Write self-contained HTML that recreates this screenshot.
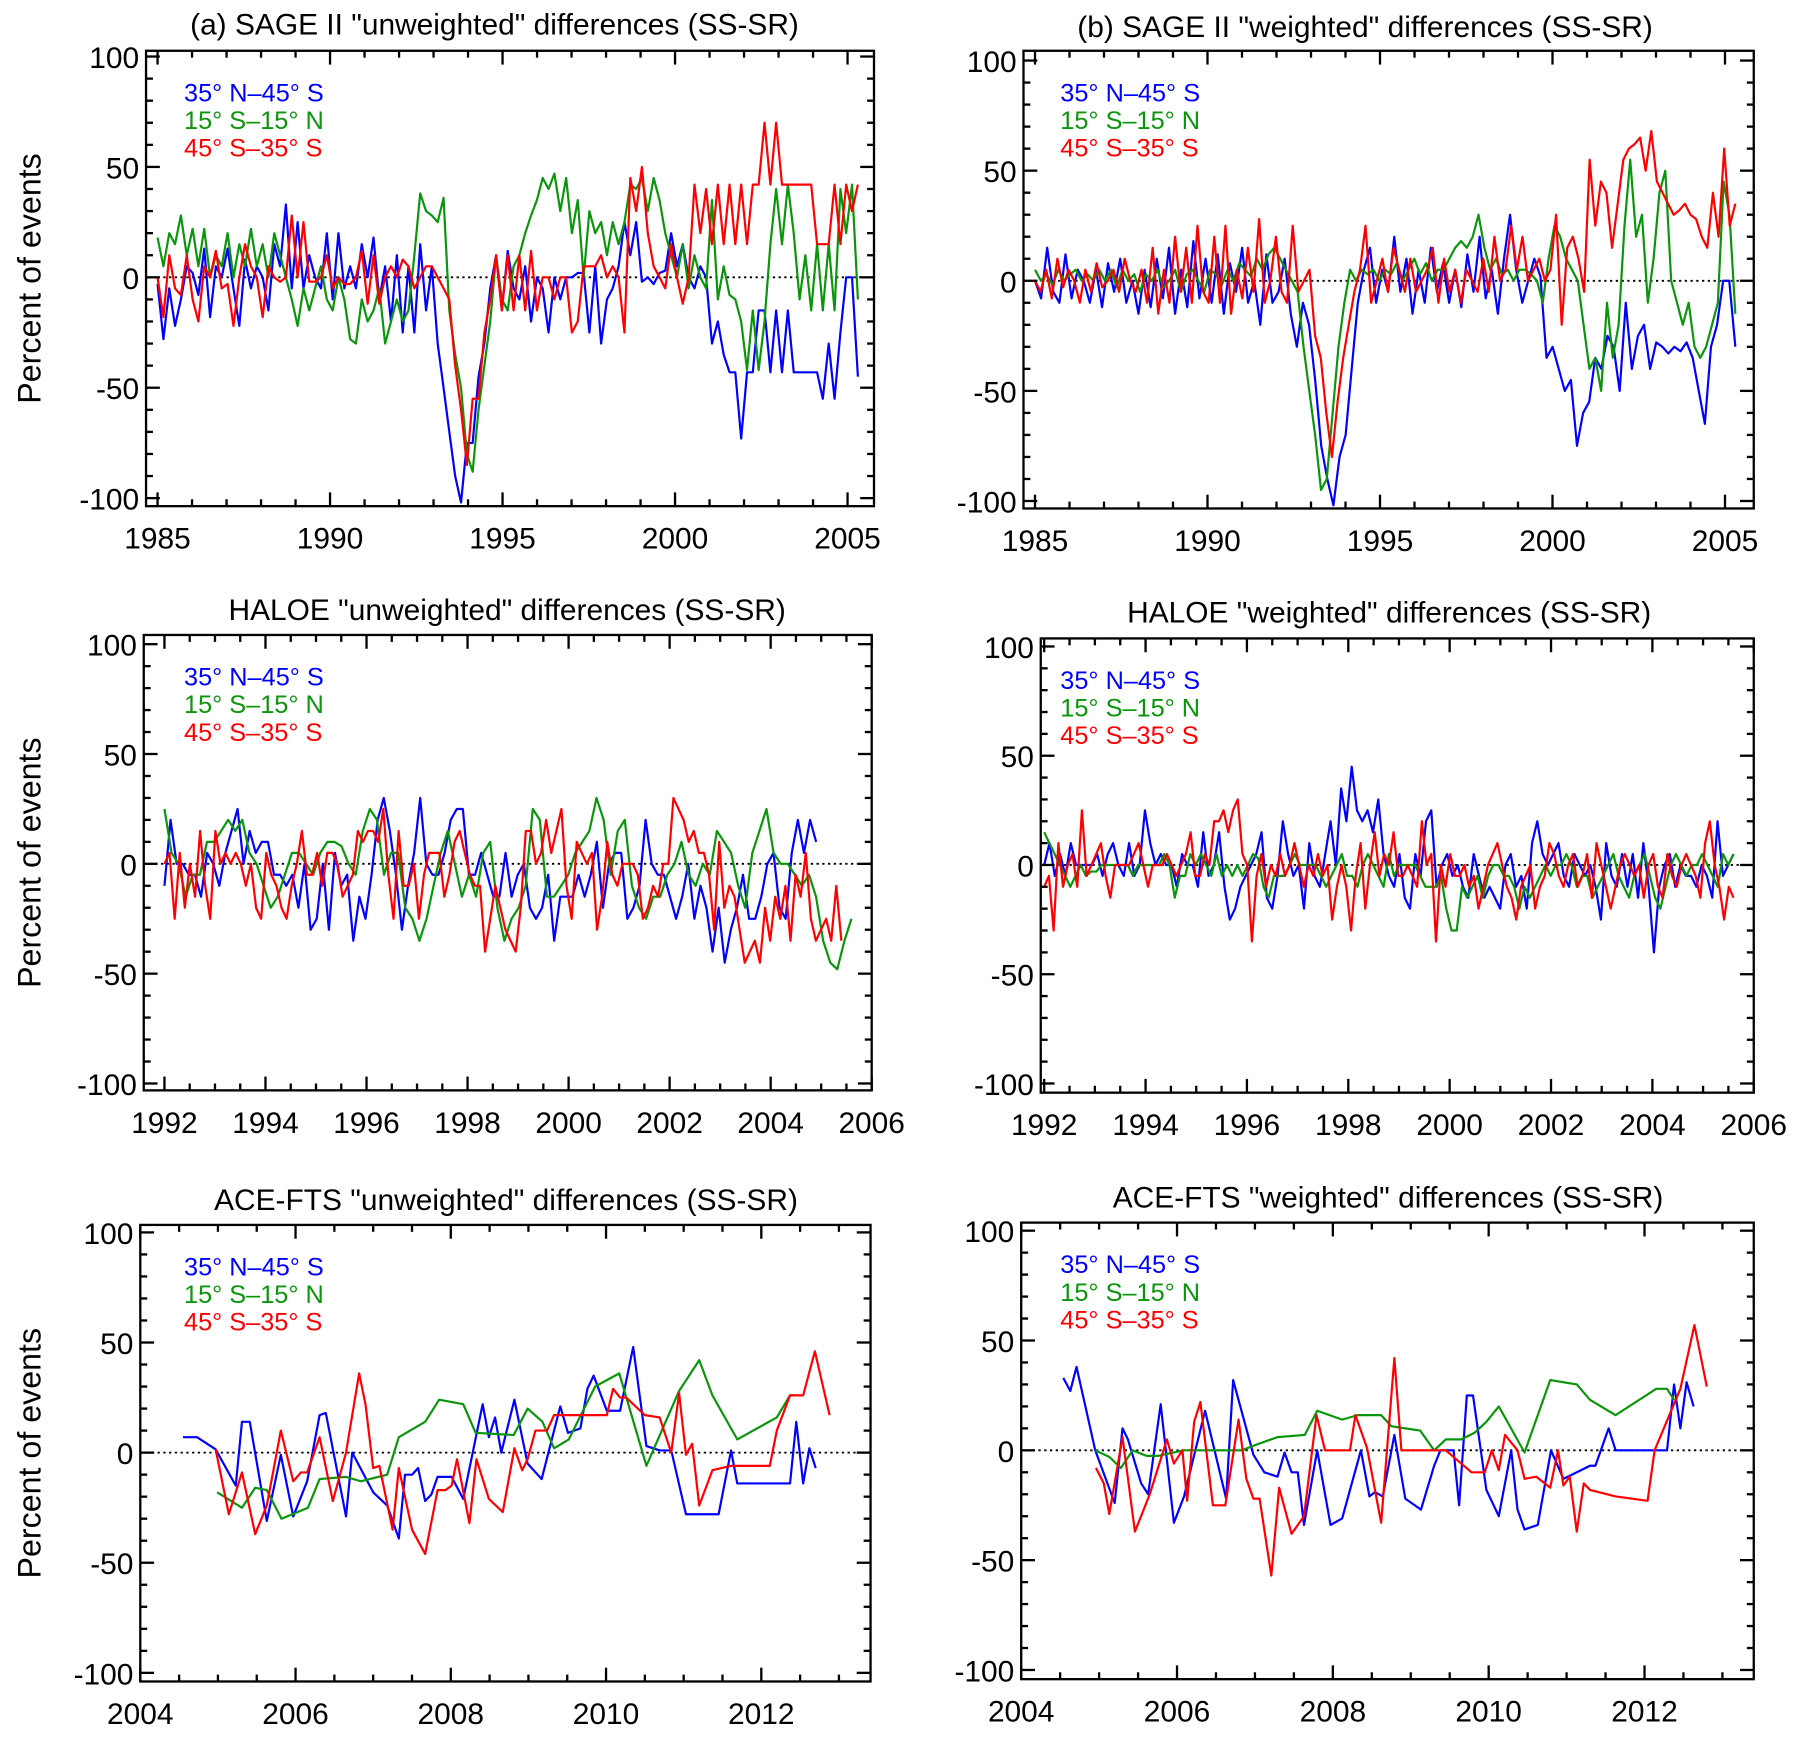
<!DOCTYPE html>
<html><head><meta charset="utf-8">
<style>
html,body{margin:0;padding:0;background:#fff;}
svg{display:block;}
text{font-family:"Liberation Sans",sans-serif;}
</style></head>
<body>
<svg id="fig" width="1794" height="1738" viewBox="0 0 1560 1511" xmlns="http://www.w3.org/2000/svg"></svg>
<script>
// ---------- DATA ----------
// SAGE II unweighted (panel a), evenly spaced 1985.0 - 2005.3
const sageSpan = [1985.0, 2005.3];
const aBlue = [-3,-28,-5,-22,-10,5,2,-8,13,-18,5,0,13,-5,-22,8,-5,5,0,-15,15,5,33,-5,25,-5,10,0,-5,20,-10,20,-5,5,-5,15,0,18,-10,5,-20,10,-25,5,-25,15,-15,5,-30,-50,-70,-90,-102,-75,-75,-45,-30,-5,10,-15,12,-5,-10,5,-20,0,-5,-25,0,-10,0,0,2,2,-25,5,-30,-10,-5,5,25,10,25,-2,0,-3,2,3,20,5,15,0,-5,5,0,-30,-20,-35,-43,-43,-73,-43,-43,-15,-15,-43,-15,-43,-15,-43,-43,-43,-43,-43,-55,-30,-55,-25,0,0,-45];
const aGreen = [18,5,20,15,28,10,22,5,22,0,10,5,20,0,15,5,22,5,15,0,20,10,0,-10,-22,-5,-15,-5,5,-10,-15,0,-10,-28,-30,-10,-20,-15,-5,-30,-20,-10,-20,-15,10,38,30,28,25,36,-15,-35,-50,-80,-88,-60,-40,-20,10,-10,-15,5,10,20,28,35,45,40,47,30,45,20,35,0,30,20,25,10,25,15,25,42,40,45,30,45,35,20,10,0,15,-5,10,0,-5,35,-10,5,-8,-10,-20,-42,-15,-42,-20,15,40,15,42,20,-10,10,-15,15,-15,15,-15,40,20,42,-10];
const aRed = [0,-18,10,-5,-8,10,-10,-20,5,0,12,-5,-3,-22,0,15,5,0,-18,5,0,-2,0,28,0,25,-2,-2,0,10,-5,0,-3,-3,0,12,-12,10,-12,0,5,0,8,5,-5,0,5,5,0,-5,-10,-40,-60,-85,-55,-55,-25,-10,10,-15,10,-15,10,-15,12,-15,0,0,-10,0,0,-25,-20,5,5,5,10,0,5,0,-25,45,30,50,20,5,0,-5,15,0,-12,0,42,20,40,15,42,15,42,15,42,15,42,42,70,42,70,42,42,42,42,42,42,15,15,15,42,15,42,30,42];
// SAGE II weighted (panel b)
const bBlue = [0,-8,15,-5,-10,12,-8,5,0,-10,5,-12,8,-5,10,-10,0,-15,5,-12,10,-8,15,-15,5,-12,18,-8,10,-10,12,-15,8,-5,15,-10,0,-20,12,-10,-5,10,-15,-30,-10,-20,-45,-75,-90,-102,-80,-70,-40,-10,5,15,-10,5,-5,20,-5,10,-15,5,-10,15,-5,8,-10,5,-12,12,-5,20,-8,5,-15,10,30,5,-10,0,10,2,-35,-30,-40,-50,-45,-75,-60,-55,-35,-40,-25,-30,-50,-10,-40,-25,-20,-40,-28,-30,-33,-30,-32,-28,-35,-50,-65,-30,-20,0,0,-30];
const bGreen = [5,0,3,-2,5,0,3,5,0,3,0,5,0,5,-3,5,0,3,-5,3,0,5,-3,0,5,-5,3,5,0,-5,5,3,-2,5,0,8,5,2,10,5,12,15,10,5,0,-5,-30,-50,-70,-95,-90,-60,-30,-10,5,0,5,3,5,0,5,3,8,0,5,10,3,8,0,5,5,10,15,18,15,20,30,15,5,10,3,5,0,5,5,3,0,-10,10,25,20,10,5,0,-20,-40,-35,-50,-10,-35,-20,25,55,20,30,-10,10,40,50,0,-10,-20,-10,-30,-35,-30,-20,-10,45,30,-15];
const bRed = [0,-5,5,-8,10,-3,5,0,-10,5,-5,8,-3,0,5,-5,10,0,-5,5,-10,15,-15,5,-10,20,-5,15,-10,25,-5,-10,20,-10,25,-15,5,-8,15,-5,28,-10,0,20,-5,-10,25,-5,0,5,-25,-35,-60,-80,-55,-35,-20,-5,5,25,-10,0,10,-5,15,5,-5,10,-5,0,5,15,-10,10,-5,5,-10,5,0,-5,10,-5,20,0,5,25,5,20,0,5,10,0,5,30,-20,15,20,10,-5,55,25,45,40,15,35,55,60,62,65,50,68,45,40,35,30,32,35,30,28,20,15,40,20,60,25,35];
// HALOE unweighted (panel c)
const cBlueSpan = [1992.0, 2004.9];
const cBlue = [-10,20,0,0,-5,-5,-15,5,0,-10,5,15,25,0,15,5,10,10,-5,-5,-10,-5,-20,0,-30,-25,0,-30,5,-10,-5,-35,-15,-25,-5,20,30,15,-5,-30,-10,5,30,0,-5,-5,5,20,25,25,-5,-5,5,-5,-15,-15,5,-15,-5,0,-20,-25,-20,-5,-35,-15,-15,-15,-5,-15,-5,10,-20,0,5,5,-25,-20,-10,20,0,-5,-5,-15,-25,-15,0,-25,-10,-20,-40,-20,-45,-30,-20,-5,-25,-25,-15,0,5,-20,-25,5,20,5,20,10];
const cGreenSpan = [1992.0, 2005.6];
const cGreen = [25,5,0,-15,-5,-5,10,10,15,20,15,20,5,0,-10,-20,-15,-5,5,5,0,-5,5,10,10,8,0,-5,15,25,20,-5,5,5,-20,-25,-35,-25,-10,5,15,0,-15,-5,-15,5,10,-20,-35,-25,-20,-10,25,20,-15,-15,-10,-5,5,10,15,30,20,-5,15,20,-10,-20,-25,-15,-15,-5,0,10,-5,-10,0,-5,15,10,5,-10,-20,5,15,25,5,0,0,-5,-10,-5,-15,-35,-45,-48,-35,-25];
const cRedSpan = [1992.0, 2005.4];
const cRed = [0,5,-25,5,-20,0,-15,15,-10,-25,15,0,5,0,5,0,-10,0,-20,-25,5,-5,-10,-20,-25,-10,0,15,-5,-5,5,-10,5,5,0,-15,-10,-5,15,10,15,15,10,25,-5,-25,15,-10,-10,0,-25,-5,5,5,5,-15,-5,10,15,5,-5,-10,-10,-40,-25,-10,-20,-30,-35,-40,-20,15,15,0,5,20,5,15,25,-10,-25,10,5,0,5,-30,-15,10,-5,-10,0,0,0,-5,-25,-20,-10,-15,0,0,30,25,20,10,15,5,5,-5,-30,10,-20,-10,-15,-30,-45,-40,-35,-45,-20,-35,-15,-25,-10,-35,-5,-15,5,-25,-35,-30,-25,-35,-10,-35];
// HALOE weighted (panel d)
const dSpan = [1992.0, 2005.6];
const dBlue = [0,10,-5,5,-5,10,0,0,0,0,5,-5,5,10,0,-5,10,-5,0,25,10,0,5,0,0,-10,5,0,0,-10,15,-5,0,15,-10,-25,-20,-10,-5,0,5,15,-15,-20,-5,20,5,-5,0,-20,10,-5,-10,5,20,0,35,20,45,25,20,25,15,30,5,-5,-10,5,-15,-20,5,-5,20,25,-10,0,5,-5,0,-10,-15,5,-5,-15,-10,-15,-20,0,5,-10,-5,-20,10,20,5,0,5,10,-5,-10,5,0,-5,0,-10,-25,10,-5,-10,5,-10,5,-15,10,-10,-40,-10,0,5,-10,0,-5,-5,-10,0,-5,-15,20,-5,0,5];
const dGreen = [15,10,5,0,-5,-10,-5,0,-5,-3,-3,0,0,0,0,0,0,-5,0,0,0,0,0,5,0,-15,-5,-5,5,0,5,0,-5,5,-5,0,-5,0,-5,0,5,3,-10,-15,-5,-5,-5,0,5,0,0,0,0,-5,-10,-5,0,5,-5,-5,-10,0,5,0,-5,-10,5,-5,0,0,0,0,-5,-10,-10,-10,-5,-20,-30,-30,-10,-15,-10,-5,-15,-5,0,0,-5,-5,-10,-20,-10,-15,-10,-5,0,-5,0,0,5,0,-10,-5,-5,-15,-10,-5,0,5,-5,-10,-15,-5,0,5,-5,-15,-20,-10,0,5,0,-5,0,0,5,0,-5,-10,5,0,5];
const dRed = [-10,-5,-30,10,-10,0,5,-10,25,-5,0,5,10,-5,-15,0,0,0,0,5,10,0,-10,0,0,0,5,0,-5,0,5,15,-5,-5,5,0,20,20,25,15,25,30,5,0,-35,-5,5,-10,0,-5,5,-5,0,10,0,-10,0,-5,5,-5,0,-25,-10,0,-10,-30,-5,10,-20,0,15,-5,5,0,15,-5,-5,0,-5,-10,20,0,5,-35,0,-10,5,-5,-5,0,-10,-5,-20,-10,0,5,10,0,-10,-15,-25,-10,-5,0,-20,-10,-5,10,5,-5,-10,0,5,-10,-5,5,-15,10,0,-10,-20,-10,0,5,0,-5,0,-15,0,5,-10,-15,5,-5,-10,0,5,0,-5,-15,10,20,0,-10,-25,-10,-15];
// ACE-FTS unweighted (panel e): years since 2004 and values
const eBlueT = [.55,.73,.97,1.23,1.31,1.41,1.63,1.81,1.97,2.15,2.31,2.39,2.65,2.73,3.00,3.18,3.33,3.41,3.50,3.58,3.67,3.75,3.83,4.01,4.16,4.41,4.49,4.57,4.65,4.82,4.99,5.17,5.41,5.51,5.67,5.76,5.84,6.01,6.18,6.35,6.52,6.69,6.84,7.03,7.45,7.61,7.69,8.37,8.45,8.54,8.62,8.70];
const eBlue = [7,7,1.5,-15,14,14,-31,-1,-29,-13,17,18,-29,0,-18,-24,-39,-10,-10,-7,-22,-19,-11,-11,-21,22,7,16,0,24,-5,-12,21,9,11,29,35,19,19,48,3,1,1,-28,-28,1,-14,-14,14,-14,2,-7];
const eGreenT = [.99,1.31,1.48,1.63,1.82,2.16,2.31,2.65,2.84,3.18,3.33,3.67,3.85,4.16,4.32,4.81,4.99,5.18,5.33,5.52,5.86,6.17,6.52,6.94,7.20,7.37,7.69,8.20,8.37,8.43];
const eGreen = [-18,-25,-16,-17,-30,-25,-12,-11,-13,-10,7,14,24,22,9,8,20,14,2,6,30,36,-6,28,42,26,6,16,26,26];
const eRedT = [.97,1.14,1.31,1.48,1.63,1.81,1.97,2.07,2.15,2.31,2.48,2.65,2.82,2.90,3.00,3.08,3.25,3.33,3.50,3.67,3.83,3.93,4.01,4.08,4.24,4.33,4.49,4.67,4.82,4.92,4.99,5.09,5.24,5.33,6.01,6.09,6.18,6.26,6.50,6.69,6.84,6.94,7.03,7.11,7.20,7.37,7.61,8.11,8.20,8.37,8.54,8.69,8.88];
const eRed = [1.5,-28,-9,-37,-24,10,-13,-9,-9,7,-22,0,36,22,-7,-6,-35,-7,-35,-46,-17,-17,-15,-3,-32,-3,-21,-27,2,-8,-3,10,10,17,17,29,25,25,17,16,0,27,-1,4,-24,-8,-6,-6,10,26,26,46,17];
// ACE-FTS weighted (panel f)
const fBlueT = [.54,.63,.71,.95,1.20,1.30,1.37,1.54,1.63,1.79,1.96,2.09,2.36,2.63,2.72,2.98,3.12,3.29,3.38,3.47,3.55,3.63,3.80,3.97,4.12,4.36,4.47,4.54,4.64,4.79,4.93,5.13,5.30,5.38,5.55,5.62,5.72,5.80,5.97,6.13,6.29,6.37,6.46,6.63,6.80,6.96,7.30,7.37,7.54,7.63,8.29,8.38,8.46,8.54,8.63];
const fBlue = [33,27,38,0,-24,10,5,-15,-20,21,-33,-21,18,-22,32,-2,-10,-12,-1,-10,-10,-34,0,-34,-31,0,-21,-19,-21,7,-22,-27,-7,0,0,-25,25,25,-18,-30,0,-27,-36,-34,0,-13,-7,-7,10,0,0,30,10,31,20];
const fGreenT = [.95,1.13,1.28,1.43,1.61,1.76,2.09,2.24,2.83,3.05,3.29,3.64,3.80,4.12,4.32,4.62,4.75,4.93,5.12,5.30,5.45,5.65,5.82,5.97,6.13,6.46,6.79,7.13,7.30,7.63,8.15,8.29,8.38];
const fGreen = [0,-3,-8,0,-2.5,-2.5,0,0,0,3,6,7,18,14,16,16,11,10,9,0,5,5,8,13,20,-1,32,30,23,16,28,28,23];
const fRedT = [.96,1.06,1.13,1.30,1.46,1.65,1.87,1.96,2.07,2.13,2.22,2.30,2.46,2.62,2.79,2.89,2.98,3.06,3.21,3.31,3.47,3.63,3.79,3.90,4.22,4.29,4.44,4.62,4.79,4.88,5.45,5.78,5.95,6.04,6.13,6.21,6.37,6.46,6.61,6.79,6.89,6.96,7.04,7.13,7.22,7.30,7.63,8.04,8.13,8.46,8.64,8.80];
const fRed = [-8,-15,-29,6,-37,-20,5,-6,0,-23,13,22,-25,-25,14,-13,-22,-22,-57,-17,-38,-30,16,0,0,16,1,-33,42,0,0,-10,-10,0,-9,7,0,-13,-12,-17,0,-16,-12,-37,-15,-18,-21,-23,0,28,57,29];
const yTickLabels = ["-100","-50","0","50","100"];
const yTickValues = [-100,-50,0,50,100];
const legendLabels = ["35° N–45° S","15° S–15° N","45° S–35° S"];
const sageXTicks = [1985,1990,1995,2000,2005];
const haloeXTicks = [1992,1994,1996,1998,2000,2002,2004,2006];
const aceXTicks = [2004,2006,2008,2010,2012];

// ---------- DRAWING ----------
const NS = "http://www.w3.org/2000/svg";
const fig = document.getElementById('fig');
const COLORS = ["#0000ff", "#0a960a", "#ff0000"];
const SERIES_NAMES = ["series-35n-45s","series-15s-15n","series-45s-35s"];

function mk(tag, attrs, parent){
  const e = document.createElementNS(NS, tag);
  for (const k in attrs) e.setAttribute(k, attrs[k]);
  (parent || fig).appendChild(e);
  return e;
}
function evenX(span, n){ const a=[]; for(let i=0;i<n;i++) a.push(span[0]+i*(span[1]-span[0])/(n-1)); return a; }
function offX(t, base){ return t.map(v=>v+base); }

function panel(p){
  const g = mk('g', {});
  
  
  const xs = v => p.pa + (v - p.xa) * (p.pb - p.pa) / (p.xb - p.xa);
  const ys = v => p.y0 - v * p.ys;
  const t = mk('text', {x:p.tx, y:p.ty, 'font-size':26, 'text-anchor':'middle'}, g);
  t.textContent = p.title;
  
  
  if (p.ytx) {
    const cy = (p.top + p.bot) / 2;
    const yt = mk('text', {x:0, y:0, 'font-size':28, 'text-anchor':'middle', transform:`translate(${p.ytx},${cy}) rotate(-90)`}, g);
    yt.textContent = "Percent of events";
    
    
  }
  const z = mk('line', {x1:p.left, x2:p.right, y1:ys(0), y2:ys(0), stroke:'#000', 'stroke-width':1.6, 'stroke-dasharray':'2,3'}, g);
  
  
  p.series.forEach((s, i) => {
    const pts = s.x.map((xv, j) => xs(xv).toFixed(1) + ',' + ys(s.y[j]).toFixed(1)).join(' ');
    const pl = mk('polyline', {points:pts, fill:'none', stroke:COLORS[i], 'stroke-width':1.9, 'stroke-linejoin':'round'}, g);
    
    
  });
  const fr = mk('rect', {x:p.left, y:p.top, width:p.right-p.left, height:p.bot-p.top, fill:'none', stroke:'#000', 'stroke-width':2}, g);
  
  
  for (let v = -100; v <= 100; v += 10) {
    const len = (v % 50 === 0) ? 12 : 6;
    mk('line', {x1:p.left, x2:p.left+len, y1:ys(v), y2:ys(v), stroke:'#000', 'stroke-width':2}, g);
    mk('line', {x1:p.right, x2:p.right-len, y1:ys(v), y2:ys(v), stroke:'#000', 'stroke-width':2}, g);
  }
  yTickValues.forEach((v, i) => {
    const l = mk('text', {x:p.left-6, y:ys(v)+10, 'font-size':26, 'text-anchor':'end'}, g);
    l.textContent = yTickLabels[i];
    
    
  });
  for (let v = p.minorStart; v <= p.minorEnd + 1e-6; v += p.minor) {
    const isMaj = p.xticks.some(m => Math.abs(m - v) < 1e-6);
    const len = isMaj ? 12 : 6;
    const X = xs(v);
    if (X < p.left - 1 || X > p.right + 1) continue;
    mk('line', {x1:X, x2:X, y1:p.bot, y2:p.bot-len, stroke:'#000', 'stroke-width':2}, g);
    mk('line', {x1:X, x2:X, y1:p.top, y2:p.top+len, stroke:'#000', 'stroke-width':2}, g);
  }
  p.xticks.forEach(v => {
    const l = mk('text', {x:xs(v), y:p.bot+37, 'font-size':26, 'text-anchor':'middle'}, g);
    l.textContent = String(v);
    
    
  });
  legendLabels.forEach((lab, i) => {
    const l = mk('text', {x:p.lx, y:p.top + 44 + i*24, 'font-size':22, fill:COLORS[i]}, g);
    l.textContent = lab;
    
    
  });
}

panel({name:'panel-a-sage-unweighted', title:'(a)  SAGE II  "unweighted" differences  (SS-SR)', tx:430, ty:30, ytx:35,
  left:127, right:760, top:44, bot:440, xa:1985, pa:137, xb:2005, pb:737, y0:241, ys:1.92, lx:160,
  xticks:sageXTicks, minor:1, minorStart:1985, minorEnd:2005,
  series:[{x:evenX(sageSpan,aBlue.length), y:aBlue},{x:evenX(sageSpan,aGreen.length), y:aGreen},{x:evenX(sageSpan,aRed.length), y:aRed}]});
panel({name:'panel-b-sage-weighted', title:'(b)  SAGE II  "weighted" differences (SS-SR)', tx:1187, ty:32, ytx:0,
  left:890, right:1525, top:44, bot:442, xa:1985, pa:900, xb:2005, pb:1500, y0:244, ys:1.915, lx:922,
  xticks:sageXTicks, minor:1, minorStart:1985, minorEnd:2005,
  series:[{x:evenX(sageSpan,bBlue.length), y:bBlue},{x:evenX(sageSpan,bGreen.length), y:bGreen},{x:evenX(sageSpan,bRed.length), y:bRed}]});
panel({name:'panel-c-haloe-unweighted', title:'HALOE "unweighted" differences  (SS-SR)', tx:441, ty:539, ytx:35,
  left:125, right:758, top:552, bot:948, xa:1992, pa:143, xb:2006, pb:758, y0:751, ys:1.91, lx:160,
  xticks:haloeXTicks, minor:0.5, minorStart:1992, minorEnd:2006,
  series:[{x:evenX(cBlueSpan,cBlue.length), y:cBlue},{x:evenX(cGreenSpan,cGreen.length), y:cGreen},{x:evenX(cRedSpan,cRed.length), y:cRed}]});
panel({name:'panel-d-haloe-weighted', title:'HALOE  "weighted" differences (SS-SR)', tx:1208, ty:541, ytx:0,
  left:905, right:1525, top:555, bot:950, xa:1992, pa:908, xb:2006, pb:1525, y0:752, ys:1.9, lx:922,
  xticks:haloeXTicks, minor:0.5, minorStart:1992, minorEnd:2006,
  series:[{x:evenX(dSpan,dBlue.length), y:dBlue},{x:evenX(dSpan,dGreen.length), y:dGreen},{x:evenX(dSpan,dRed.length), y:dRed}]});
panel({name:'panel-e-ace-unweighted', title:'ACE-FTS "unweighted" differences  (SS-SR)', tx:440, ty:1052, ytx:35,
  left:122, right:757, top:1065, bot:1462, xa:2004, pa:122, xb:2012, pb:662, y0:1263, ys:1.915, lx:160,
  xticks:aceXTicks, minor:0.5, minorStart:2004, minorEnd:2013.5,
  series:[{x:offX(eBlueT,2004), y:eBlue},{x:offX(eGreenT,2004), y:eGreen},{x:offX(eRedT,2004), y:eRed}]});
panel({name:'panel-f-ace-weighted', title:'ACE-FTS  "weighted" differences (SS-SR)', tx:1207, ty:1050, ytx:0,
  left:888, right:1525, top:1063, bot:1460, xa:2004, pa:888, xb:2012, pb:1430, y0:1261, ys:1.91, lx:922,
  xticks:aceXTicks, minor:0.5, minorStart:2004, minorEnd:2013.5,
  series:[{x:offX(fBlueT,2004), y:fBlue},{x:offX(fGreenT,2004), y:fGreen},{x:offX(fRedT,2004), y:fRed}]});
</script>
</body></html>
